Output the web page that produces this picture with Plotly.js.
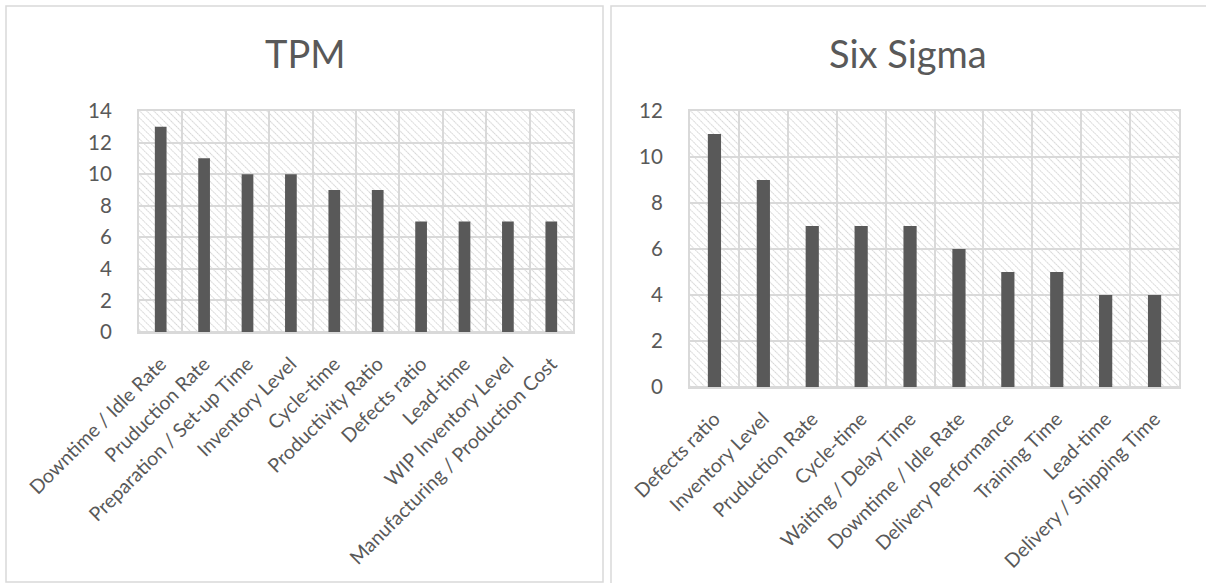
<!DOCTYPE html>
<html>
<head>
<meta charset="utf-8">
<script src="https://cdn.plot.ly/plotly-3.0.1.min.js"></script>
<style>
  html, body { margin: 0; padding: 0; background: #ffffff; }
  #chart { width: 1206px; height: 583px; }
</style>
</head>
<body>
<div id="chart"></div>
<script>
// TPM: performance indicators and how often each is reported
const tpmCategories = [
  "Downtime / Idle Rate", "Pruduction Rate", "Preparation / Set-up Time",
  "Inventory Level", "Cycle-time", "Productivity Ratio", "Defects ratio",
  "Lead-time", "WIP Inventory Level", "Manufacturing / Production Cost"
];
const tpmValues = [13, 11, 10, 10, 9, 9, 7, 7, 7, 7];

// Six Sigma: performance indicators and how often each is reported
const sixSigmaCategories = [
  "Defects ratio", "Inventory Level", "Pruduction Rate", "Cycle-time",
  "Waiting / Delay Time", "Downtime / Idle Rate", "Delivery Performance",
  "Training Time", "Lead-time", "Delivery / Shipping Time"
];
const sixSigmaValues = [11, 9, 7, 7, 7, 6, 5, 5, 4, 4];

const panelTitles = ["TPM", "Six Sigma"];
const yRanges = [[0, 14], [0, 12]];

const W = 1206, H = 583;
const px = x => x / W;
const py = y => 1 - y / H;

// plot-area rectangles in pixels: [left, top, right, bottom]
const boxes = [[139, 111, 573, 332], [690, 111, 1179, 387]];

const TEXT = "#595959";
const GRID = "#d9d9d9";
const FONT = "Lato, 'Open Sans', sans-serif";

// diagonal hatch used as the plot-area fill
function hatchImage(w, h) {
  const svg =
    `<svg xmlns="http://www.w3.org/2000/svg" width="${w}" height="${h}" viewBox="0 0 ${w} ${h}">` +
    `<defs><pattern id="h" width="5" height="5" patternUnits="userSpaceOnUse" patternTransform="rotate(-45)">` +
    `<line x1="0" y1="0" x2="0" y2="5" stroke="#c9c9c9" stroke-width="1.5" stroke-dasharray="1.4 0.7"/></pattern></defs>` +
    `<rect width="100%" height="100%" fill="#ffffff"/>` +
    `<rect width="100%" height="100%" fill="url(#h)"/></svg>`;
  return "data:image/svg+xml;charset=utf-8," + encodeURIComponent(svg);
}

function barTrace(cats, vals, ax) {
  return {
    type: "bar",
    x: cats,
    y: vals,
    xaxis: "x" + ax,
    yaxis: "y" + ax,
    width: 0.27,
    marker: { color: "#595959", line: { width: 0 } },
    hoverinfo: "x+y",
    showlegend: false
  };
}

const data = [
  barTrace(tpmCategories, tpmValues, ""),
  barTrace(sixSigmaCategories, sixSigmaValues, "2")
];

function xAxis(box, anchor) {
  return {
    domain: [px(box[0]), px(box[2])],
    anchor: anchor,
    type: "category",
    tickangle: -45,
    tickson: "boundaries",
    ticks: "",
    showgrid: true,
    gridcolor: GRID,
    gridwidth: 2,
    showline: true,
    mirror: true,
    linecolor: GRID,
    linewidth: 2,
    ticklabelstandoff: 11,
    tickfont: { family: FONT, size: 19.5, color: TEXT },
    fixedrange: true
  };
}

function yAxis(box, anchor, range) {
  return {
    domain: [py(box[3]), py(box[1])],
    anchor: anchor,
    range: range,
    dtick: 2,
    ticks: "",
    showgrid: true,
    gridcolor: GRID,
    gridwidth: 2,
    zeroline: true,
    zerolinecolor: GRID,
    zerolinewidth: 2,
    showline: true,
    mirror: true,
    linecolor: GRID,
    linewidth: 2,
    ticklabelstandoff: 21,
    tickfont: { family: FONT, size: 20.5, color: TEXT },
    fixedrange: true
  };
}

const images = boxes.map(b => ({
  source: hatchImage(b[2] - b[0], b[3] - b[1]),
  xref: "paper", yref: "paper",
  x: px(b[0]), y: py(b[1]),
  sizex: px(b[2] - b[0]), sizey: (b[3] - b[1]) / H,
  xanchor: "left", yanchor: "top",
  sizing: "stretch",
  layer: "below"
}));

const layout = {
  width: W,
  height: H,
  margin: { l: 0, r: 0, t: 0, b: 0 },
  paper_bgcolor: "#ffffff",
  plot_bgcolor: "rgba(0,0,0,0)",
  barmode: "group",
  xaxis: xAxis(boxes[0], "y"),
  yaxis: yAxis(boxes[0], "x", yRanges[0]),
  xaxis2: xAxis(boxes[1], "y2"),
  yaxis2: yAxis(boxes[1], "x2", yRanges[1]),
  images: images,
  annotations: [
    { text: panelTitles[0], x: px(305), y: py(53), xref: "paper", yref: "paper",
      xanchor: "center", yanchor: "middle", showarrow: false,
      font: { family: FONT, size: 38, color: TEXT } },
    { text: panelTitles[1], x: px(908), y: py(53), xref: "paper", yref: "paper",
      xanchor: "center", yanchor: "middle", showarrow: false,
      font: { family: FONT, size: 38, color: TEXT } }
  ],
  shapes: [
    { type: "rect", xref: "paper", yref: "paper",
      x0: px(6), x1: px(603), y0: py(582), y1: py(6),
      line: { color: GRID, width: 1.5 }, fillcolor: "rgba(0,0,0,0)" },
    { type: "rect", xref: "paper", yref: "paper",
      x0: px(611), x1: px(1215), y0: py(592), y1: py(6),
      line: { color: GRID, width: 1.5 }, fillcolor: "rgba(0,0,0,0)" }
  ]
};

Plotly.newPlot("chart", data, layout, { displayModeBar: false, staticPlot: true });
</script>
</body>
</html>
